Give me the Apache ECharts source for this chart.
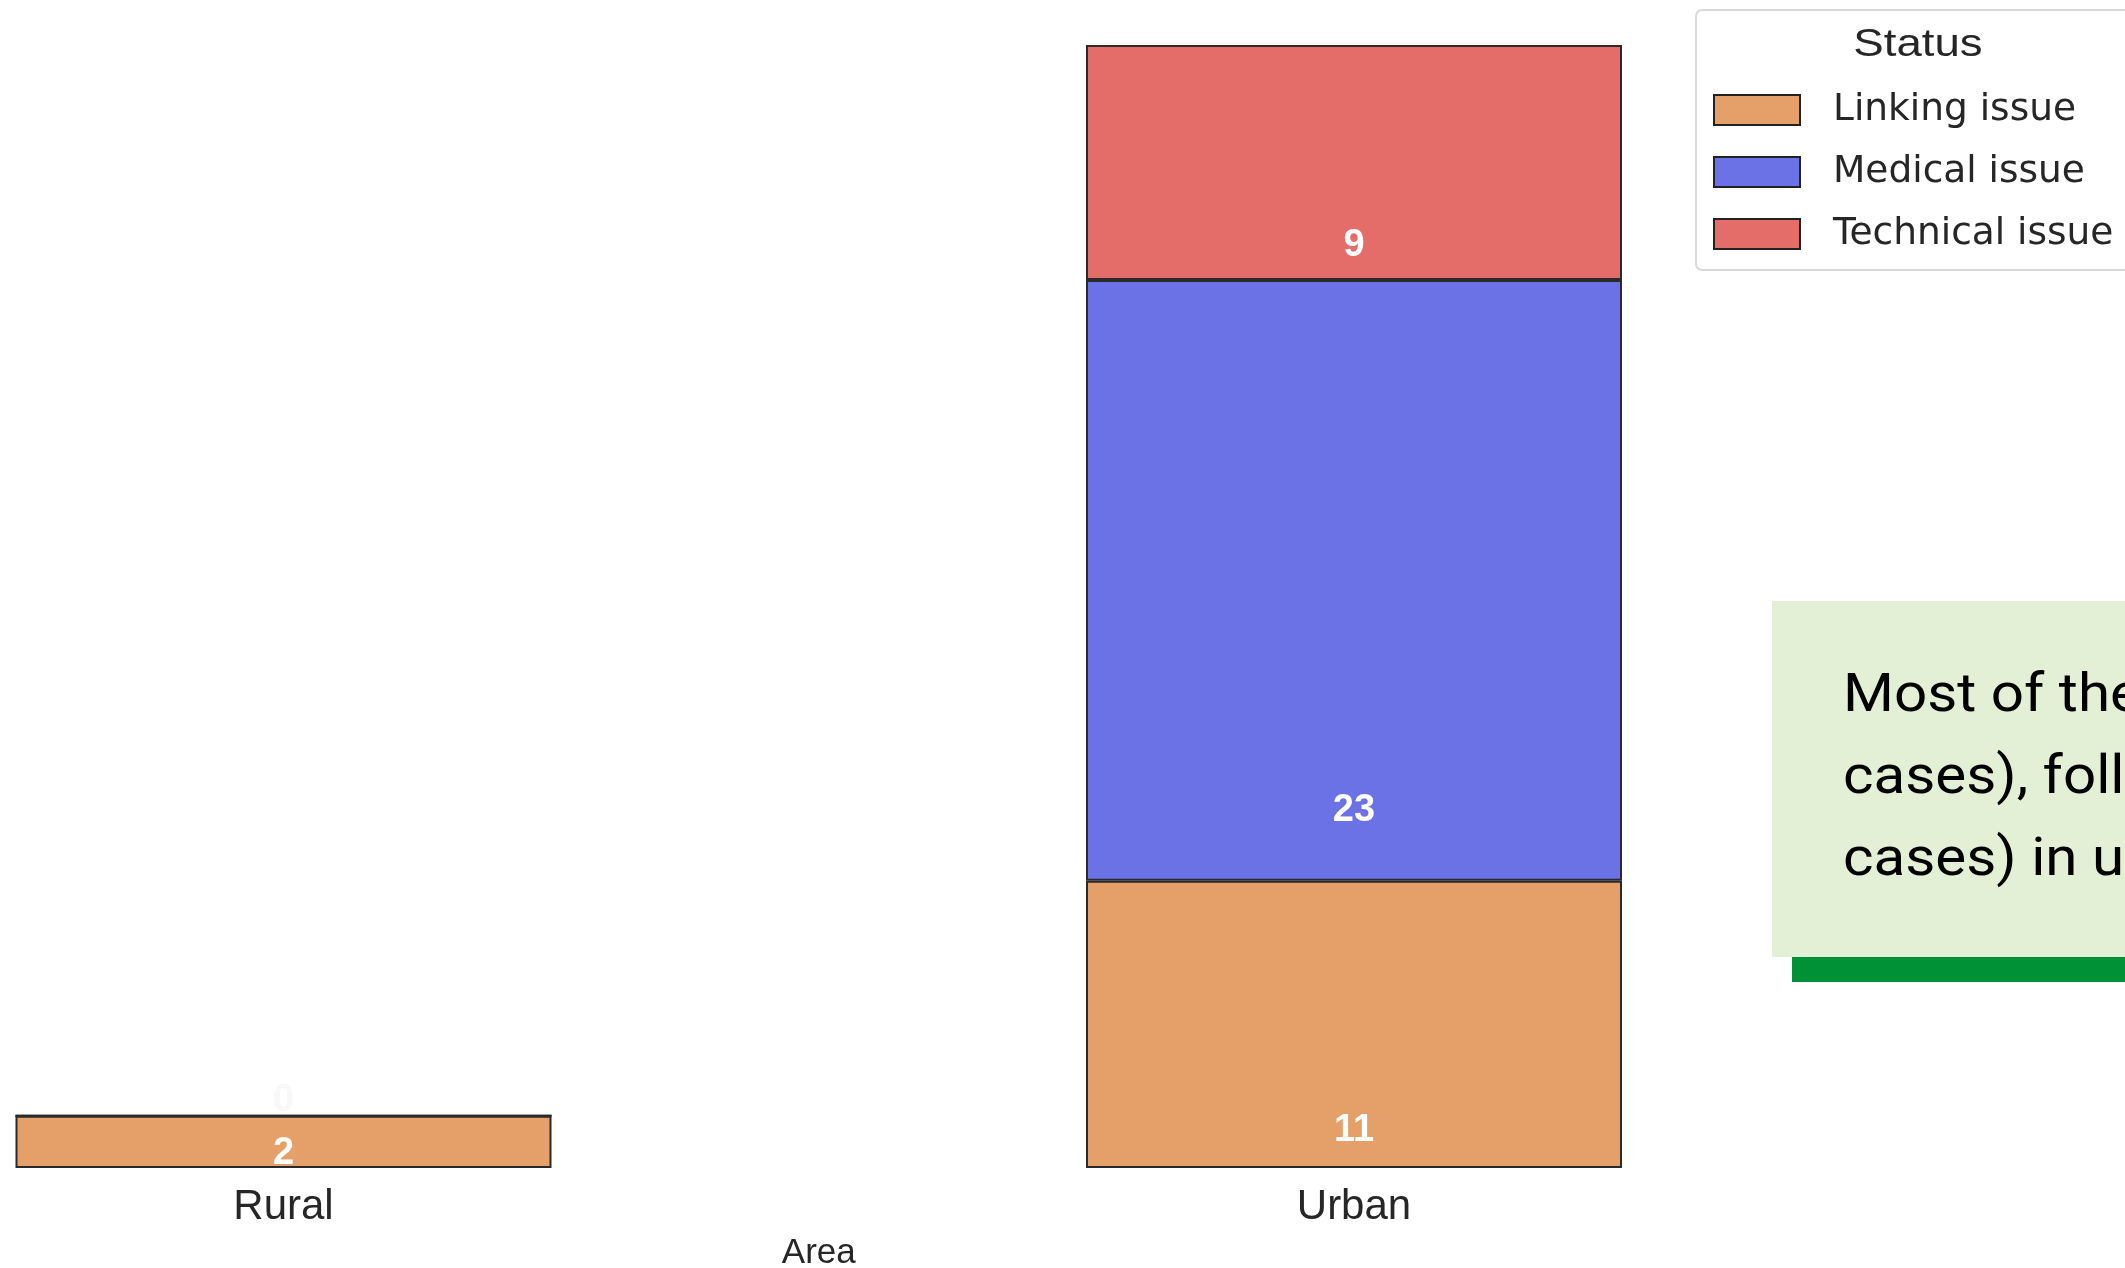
<!DOCTYPE html>
<html><head><meta charset="utf-8">
<script src="https://cdn.jsdelivr.net/npm/echarts@6/dist/echarts.min.js"></script>
<style>html,body{margin:0;padding:0;background:#fff;overflow:hidden}#c{width:2125px;height:1268px}</style>
</head><body><div id="c"></div>
<script>
// ---- data ----
const categories = ['Rural', 'Urban'];
const seriesNames = ['Linking issue', 'Medical issue', 'Technical issue'];
const linking = [2, 11];
const medical = [0, 23];
const technical = [0, 9];
const legendTitle = 'Status';
const xAxisName = 'Area';
const noteLines = ['Most of the issues were medical (23', 'cases), followed by linking issues (11', 'cases) in urban areas.'];

// ---- styles ----
const FONT = 'Liberation Sans';
const colors = ['#E5A06A', '#6B72E5', '#E46D6A'];
// label vertical position inside each segment (fraction from top), per series / category
const labelFrac = [['72%', '87%'], ['88.3%', '88.3%'], ['85.5%', '85.5%']];

const seriesData = [linking, medical, technical];

const series = seriesData.map((vals, si) => ({
  name: seriesNames[si],
  type: 'bar',
  stack: 'total',
  barWidth: 536,
  clip: false,
  itemStyle: { color: colors[si], borderColor: '#2a2a2a', borderWidth: 2 },
  label: {
    show: true, color: '#fff', fontWeight: 'bold', fontSize: 38, fontFamily: FONT,
    align: 'center', verticalAlign: 'middle'
  },
  data: vals.map((v, ci) => v === 0
    ? { value: v, label: { position: 'top', distance: 14, color: '#f8f8f8' } }
    : { value: v, label: { position: ['50%', labelFrac[si][ci]] } })
}));

const chart = echarts.init(document.getElementById('c'));
chart.setOption({
  animation: false,
  backgroundColor: '#fff',
  grid: { left: 283.5, right: 771, top: 45, bottom: 100, containLabel: false, outerBoundsMode: 'none' },
  xAxis: {
    type: 'category', data: categories, boundaryGap: false,
    axisLine: { show: false }, axisTick: { show: false }, splitLine: { show: false },
    axisLabel: { fontSize: 42, color: '#262626', margin: 18, fontFamily: FONT },
    name: xAxisName, nameLocation: 'middle', nameGap: 68,
    nameTextStyle: { fontSize: 35, color: '#262626', fontFamily: FONT }
  },
  yAxis: { type: 'value', min: 0, max: 43, show: false },
  legend: {
    orient: 'vertical', left: 1713, top: 91, itemWidth: 86, itemHeight: 30, itemGap: 24,
    icon: 'rect', padding: 0, selectedMode: false,
    itemStyle: { borderColor: '#222', borderWidth: 2 },
    textStyle: { fontSize: 37.5, lineHeight: 30, color: '#262626', fontFamily: 'DejaVu Sans', padding: [0, 0, 0, 28] },
    data: seriesNames
  },
  graphic: [
    { type: 'rect', z: 0, shape: { x: 1696, y: 10, width: 600, height: 260, r: 6 },
      style: { fill: '#fff', stroke: '#d9d9d9', lineWidth: 2 } },
    { type: 'text', z: 5, x: 1918, y: 46, scaleX: 1.2,
      style: { text: legendTitle, fontSize: 38, fontFamily: FONT, fill: '#262626', textAlign: 'center', textVerticalAlign: 'middle' } },
    { type: 'rect', z: 1, shape: { x: 1792, y: 957, width: 600, height: 25 }, style: { fill: '#009036' } },
    { type: 'rect', z: 1, shape: { x: 1772, y: 601, width: 600, height: 356 }, style: { fill: '#E3F0D6' } },
    { type: 'text', z: 2, x: 1843, y: 656, scaleX: 1.08,
      style: { text: noteLines.join('\n'), fontSize: 54, lineHeight: 82, fontFamily: 'Roboto', fill: '#000', textAlign: 'left', textVerticalAlign: 'top' } }
  ],
  series: series
});
</script></body></html>
